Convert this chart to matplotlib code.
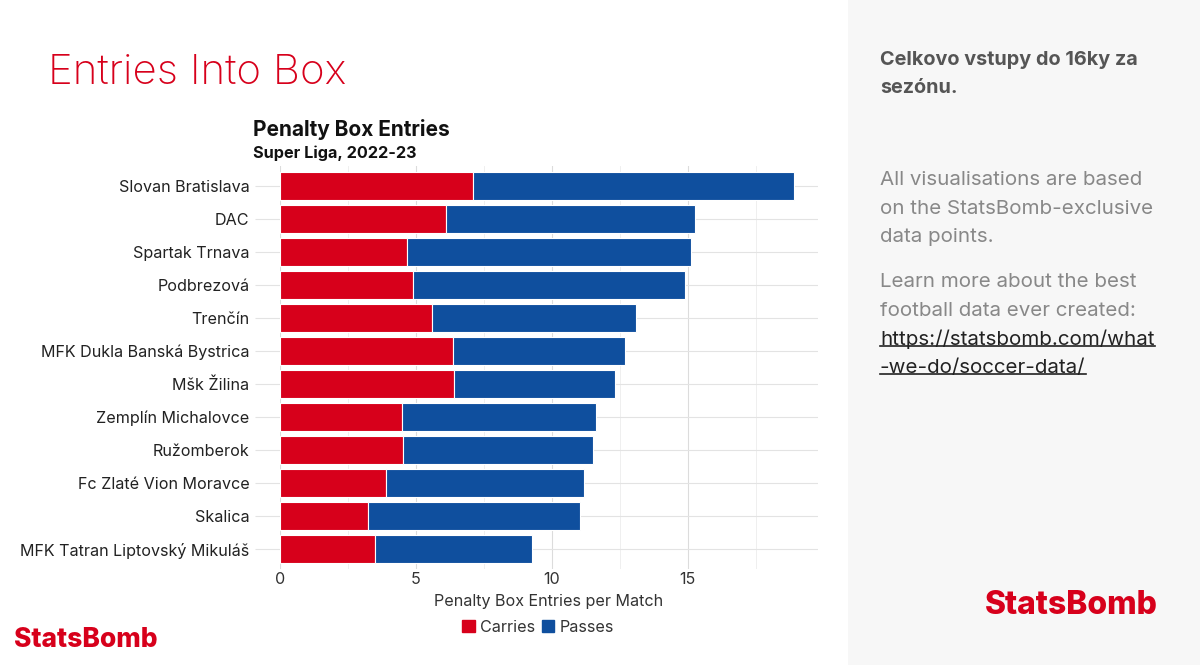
import matplotlib.pyplot as plt
import matplotlib.patches as mpatches
from matplotlib.lines import Line2D
import numpy as np

plt.rcParams['font.family'] = ['Inter', 'DejaVu Sans']

teams = ['Slovan Bratislava', 'DAC', 'Spartak Trnava', 'Podbrezová', 'Trenčín',
         'MFK Dukla Banská Bystrica', 'Mšk Žilina', 'Zemplín Michalovce', 'Ružomberok',
         'Fc Zlaté Vion Moravce', 'Skalica', 'MFK Tatran Liptovský Mikuláš']
carries = [7.11, 6.11, 4.68, 4.90, 5.60, 6.37, 6.41, 4.49, 4.53, 3.90, 3.24, 3.50]
totals = [18.90, 15.29, 15.14, 14.92, 13.11, 12.71, 12.34, 11.64, 11.53, 11.20, 11.05, 9.28]
passes = [t - c for t, c in zip(totals, carries)]

RED = '#d7001b'
BLUE = '#0f4f9e'

fig = plt.figure(figsize=(12, 6.65), dpi=100)
fig.patch.set_facecolor('white')

# grey side panel
fig.patches.append(mpatches.Rectangle((848 / 1200, 0), 1 - 848 / 1200, 1,
                                      transform=fig.transFigure, facecolor='#f7f7f7',
                                      edgecolor='none', zorder=0))

ax = fig.add_axes([280 / 1200, 1 - 569 / 665, (818 - 280) / 1200, 403 / 665])
y = np.arange(len(teams))
ax.barh(y, carries, height=0.86, color=RED, edgecolor='white', linewidth=0.8, zorder=3)
ax.barh(y, passes, left=carries, height=0.86, color=BLUE, edgecolor='white', linewidth=0.8, zorder=3)

ax.set_ylim(len(teams) - 0.4, -0.6)
ax.set_xlim(0, 19.8)
ax.set_yticks(y)
ax.set_yticklabels(teams, fontsize=11.6, color='#222222')
ax.set_xticks([0, 5, 10, 15])
ax.set_xticklabels(['0', '5', '10', '15'], fontsize=11.6, color='#333333')
ax.set_xticks([2.5, 7.5, 12.5, 17.5], minor=True)
ax.grid(axis='x', which='major', color='#dcdcdc', linewidth=0.8, zorder=0)
ax.grid(axis='x', which='minor', color='#ececec', linewidth=0.6, zorder=0)
ax.grid(axis='y', color='#e3e3e3', linewidth=0.8, zorder=0)
ax.tick_params(axis='y', length=18, color='#e3e3e3', pad=4)
ax.tick_params(axis='x', which='both', length=0, pad=2)
for s in ax.spines.values():
    s.set_visible(False)
ax.set_xlabel('Penalty Box Entries per Match', fontsize=11.6, color='#333333', labelpad=5)

# chart titles
fig.text(253 / 1200, 1 - 130 / 665, 'Penalty Box Entries', fontsize=15, fontweight='bold',
         color='#111111', va='center')
fig.text(253 / 1200, 1 - 153 / 665, 'Super Liga, 2022-23', fontsize=11.7, fontweight='bold',
         color='#111111', va='center')

# legend
handles = [mpatches.Patch(color=RED, label='Carries'), mpatches.Patch(color=BLUE, label='Passes')]
fig.legend(handles=handles, loc='center', bbox_to_anchor=(538 / 1200, 1 - 627 / 665), ncol=2,
           frameon=False, fontsize=11.6, handlelength=0.8, handleheight=0.8,
           handletextpad=0.3, columnspacing=0.4, labelcolor='#333333')

# slide title
fig.text(48 / 1200, 1 - 73 / 665, 'Entries Into Box', fontsize=30.3, color=RED,
         fontweight='light', va='center')

# side panel text
fig.text(880 / 1200, 1 - 60 / 665, 'Celkovo vstupy do 16ky za', fontsize=14.3,
         fontweight='bold', color='#555555', va='center')
fig.text(880 / 1200, 1 - 88 / 665, 'sezónu.', fontsize=14.3,
         fontweight='bold', color='#555555', va='center')
para1 = ['All visualisations are based', 'on the StatsBomb-exclusive', 'data points.']
para2 = ['Learn more about the best', 'football data ever created:']
for i, line in enumerate(para1):
    fig.text(880 / 1200, 1 - (180 + i * 28.5) / 665, line, fontsize=14.8, color='#888888',
             va='center')
for i, line in enumerate(para2):
    fig.text(880 / 1200, 1 - (282 + i * 28.5) / 665, line, fontsize=14.8, color='#888888',
             va='center')
links = []
for i, line in enumerate(['https://statsbomb.com/what', '-we-do/soccer-data/']):
    links.append(fig.text(880 / 1200, 1 - (339 + i * 28.5) / 665, line, fontsize=14.8,
                          color='#222222', va='center'))

# logos
fig.text(14 / 1200, 1 - 640 / 665, 'StatsBomb', fontsize=19, fontweight='heavy',
         color=RED, va='center')
fig.text(985 / 1200, 1 - 606 / 665, 'StatsBomb', fontsize=23, fontweight='heavy',
         color=RED, va='center')

# underline link text
fig.canvas.draw()
r = fig.canvas.get_renderer()
for t in links:
    bb = t.get_window_extent(r).transformed(fig.transFigure.inverted())
    yy = bb.y0 + 0.004
    fig.add_artist(Line2D([bb.x0, bb.x1], [yy, yy], transform=fig.transFigure,
                          color='#222222', linewidth=1.2))

fig.savefig('out.png', dpi=100)
